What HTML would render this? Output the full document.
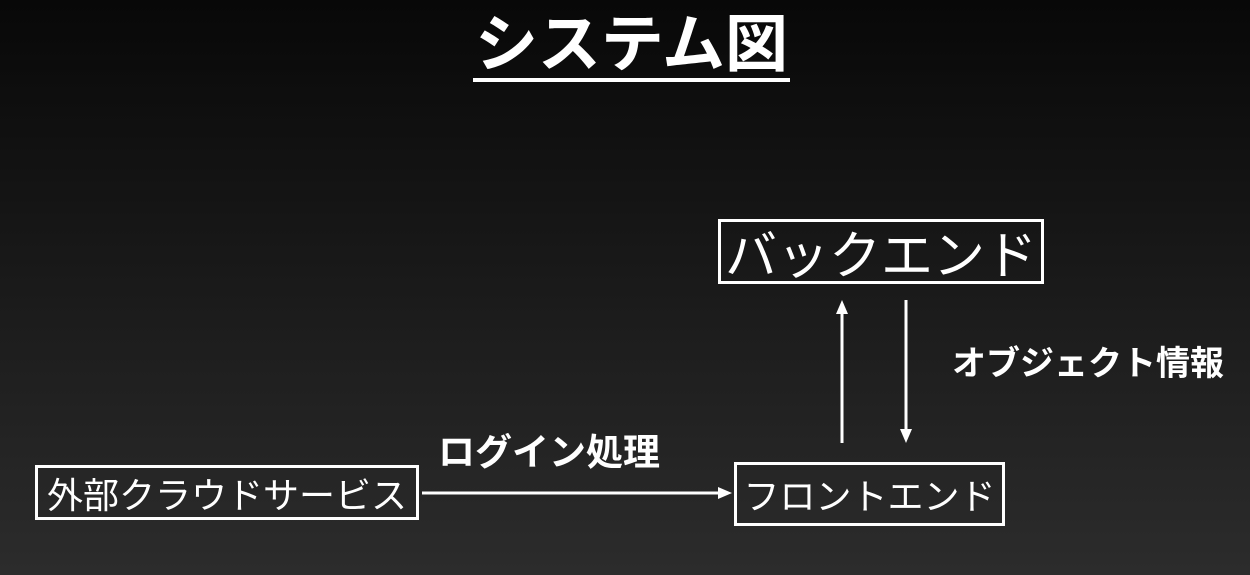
<!DOCTYPE html>
<html><head><meta charset="utf-8"><style>
html,body{margin:0;padding:0}
body{width:1250px;height:575px;position:relative;overflow:hidden;background:linear-gradient(#080808,#2c2c2c);font-family:"Liberation Sans","Noto Sans CJK JP",sans-serif;color:#fff}
.t{position:absolute;white-space:nowrap;line-height:1}
.box{position:absolute;border:3px solid #fff;box-sizing:border-box;display:flex;align-items:center;justify-content:center;white-space:nowrap}
</style></head><body>
<div class="t" style="left:473px;top:14px;width:317px;text-align:center;font-size:63px;font-weight:bold">システム図</div>
<div style="position:absolute;left:473px;top:78px;width:317px;height:4px;background:#fff"></div>
<div class="box" style="left:718px;top:219px;width:326px;height:65px;font-size:52px">バックエンド</div>
<div class="box" style="left:35px;top:465px;width:384px;height:55px;font-size:36px">外部クラウドサービス</div>
<div class="box" style="left:734px;top:462px;width:271px;height:64px;font-size:36px">フロントエンド</div>
<div class="t" style="left:438px;top:434px;font-size:37px;font-weight:bold">ログイン処理</div>
<div class="t" style="left:952px;top:347px;font-size:34px;font-weight:bold">オブジェクト情報</div>
<svg width="1250" height="575" style="position:absolute;left:0;top:0">
<g stroke="#fff" stroke-width="3" fill="#fff">
<line x1="422" y1="493" x2="720" y2="493"/>
<polygon points="732,493 718,487 718,499" stroke="none"/>
<line x1="842" y1="443" x2="842" y2="312"/>
<polygon points="842,300 836,314 848,314" stroke="none"/>
<line x1="906" y1="300" x2="906" y2="431"/>
<polygon points="906,443 900,429 912,429" stroke="none"/>
</g></svg>
</body></html>
